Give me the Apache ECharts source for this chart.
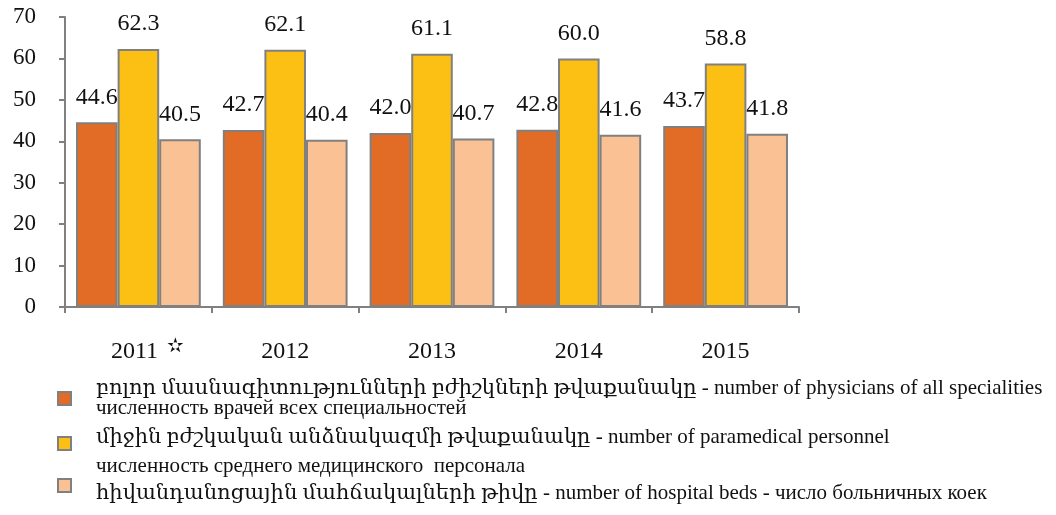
<!DOCTYPE html>
<html>
<head>
<meta charset="utf-8">
<script src="https://cdn.jsdelivr.net/npm/echarts@6/dist/echarts.min.js"></script>
<style>
html,body{margin:0;padding:0;background:#fff;}
#chart{width:1056px;height:515px;}
</style>
</head>
<body>
<div id="chart"></div>
<script>
// ---- data ----
const years = ['2011', '2012', '2013', '2014', '2015'];
const physicians = [44.6, 42.7, 42.0, 42.8, 43.7];
const paramedical = [62.3, 62.1, 61.1, 60.0, 58.8];
const hospitalBeds = [40.5, 40.4, 40.7, 41.6, 41.8];
const yTicks = [0, 10, 20, 30, 40, 50, 60, 70];
const seriesNames = [
  'բոլոր մասնագիտությունների բժիշկների թվաքանակը - number of physicians of all specialities',
  'միջին բժշկական անձնակազմի թվաքանակը - number of paramedical personnel',
  'հիվանդանոցային մահճակալների թիվը - number of hospital beds - число больничных коек'
];
const seriesRu = [
  'численность врачей всех специальностей',
  'численность среднего медицинского  персонала'
];
const starredYear = '2011';

// ---- styles ----
const FONT = "'Liberation Serif', 'Times New Roman', 'DejaVu Serif', serif";
const colors = ['#E26B26', '#FCC014', '#F9C194'];
const border = '#808080';

const chart = echarts.init(document.getElementById('chart'), null, {renderer: 'canvas'});

function barSeries(name, data, color) {
  return {
    name: name,
    type: 'bar',
    data: data,
    barGap: '0%',
    barCategoryGap: '15%',
    itemStyle: {color: color, borderColor: border, borderWidth: 2},
    label: {
      show: true,
      position: 'top',
      distance: 13,
      fontFamily: FONT,
      fontSize: 24,
      color: '#111',
      formatter: p => p.value.toFixed(1)
    }
  };
}

const legendBase = {
  orient: 'vertical',
  left: 57,
  padding: 0,
  icon: 'rect',
  itemWidth: 13,
  itemHeight: 13,
  selectedMode: false,
  itemStyle: {borderColor: border, borderWidth: 2}
};
const legText = {fontFamily: FONT, fontSize: 21, color: '#111'};

chart.setOption({
  animation: false,
  backgroundColor: '#fff',
  grid: {left: 65, right: 257, top: 17, bottom: 208, containLabel: false},
  xAxis: {
    type: 'category',
    data: years,
    axisLine: {lineStyle: {color: border, width: 2}},
    axisTick: {show: true, length: 6, lineStyle: {color: border, width: 2}},
    axisLabel: {
      interval: 0,
      margin: 28,
      fontFamily: FONT,
      fontSize: 24,
      lineHeight: 34,
      color: '#111',
      formatter: v => v === starredYear ? '{p|}{y|' + v + '}{s|✫}' : v,
      rich: {
        p: {width: 18, lineHeight: 34},
        y: {fontFamily: FONT, fontSize: 24, lineHeight: 34, color: '#111'},
        s: {fontFamily: "'DejaVu Sans', sans-serif", fontSize: 20, color: '#111', lineHeight: 24, padding: [0, 0, 10, 9]}
      }
    }
  },
  yAxis: {
    type: 'value',
    min: yTicks[0],
    max: yTicks[yTicks.length - 1],
    interval: 10,
    splitLine: {show: false},
    axisLine: {show: true, lineStyle: {color: border, width: 2}},
    axisTick: {show: true, length: 6, lineStyle: {color: border, width: 2}},
    axisLabel: {margin: 29, fontFamily: FONT, fontSize: 23, color: '#111'}
  },
  legend: [
    Object.assign({}, legendBase, {
      top: 378,
      data: [seriesNames[0]],
      formatter: n => '{g|}{a|' + n + '}\n{g|}{a|' + seriesRu[0] + '}',
      textStyle: Object.assign({}, legText, {rich: {
        g: {width: 20, lineHeight: 10},
        a: Object.assign({}, legText, {lineHeight: 20})
      }})
    }),
    Object.assign({}, legendBase, {
      top: 427,
      data: [seriesNames[1]],
      formatter: n => '{g|}{a|' + n + '}\n{g|}{b|' + seriesRu[1] + '}',
      textStyle: Object.assign({}, legText, {rich: {
        g: {width: 20, lineHeight: 10},
        a: Object.assign({}, legText, {lineHeight: 46}),
        b: Object.assign({}, legText, {lineHeight: 12})
      }})
    }),
    Object.assign({}, legendBase, {
      top: 467,
      data: [seriesNames[2]],
      formatter: n => '{g|}{a|' + n + '}',
      textStyle: Object.assign({}, legText, {rich: {
        g: {width: 20, lineHeight: 10},
        a: Object.assign({}, legText, {lineHeight: 20, padding: [16, 0, 0, 0]})
      }})
    })
  ],
  series: [
    barSeries(seriesNames[0], physicians, colors[0]),
    barSeries(seriesNames[1], paramedical, colors[1]),
    barSeries(seriesNames[2], hospitalBeds, colors[2])
  ]
});
</script>
</body>
</html>
